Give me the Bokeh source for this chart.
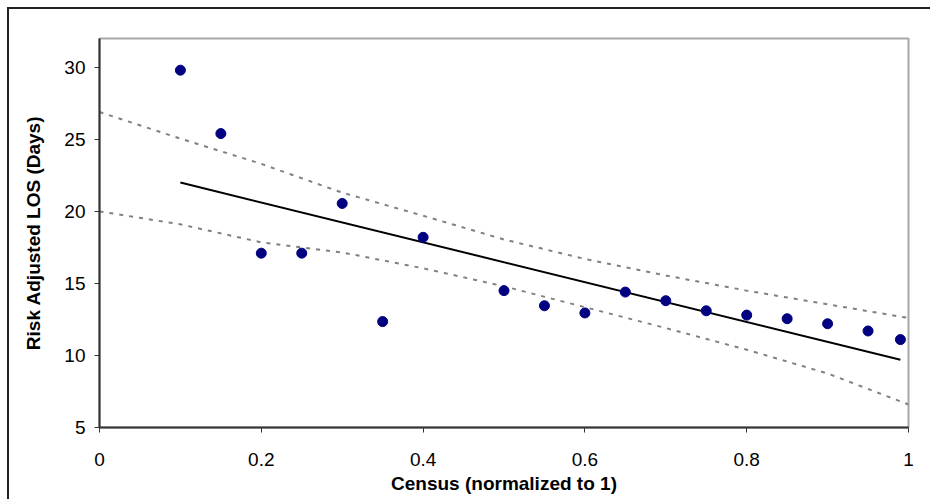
from bokeh.plotting import figure
from bokeh.models import Range1d, FixedTicker
from bokeh.embed import file_html
from bokeh.resources import INLINE

# Observed data
census = [0.1, 0.15, 0.2, 0.25, 0.3, 0.35, 0.4, 0.5, 0.55, 0.6, 0.65, 0.7,
          0.75, 0.8, 0.85, 0.9, 0.95, 0.99]
los = [29.8, 25.4, 17.1, 17.1, 20.55, 12.35, 18.2, 14.5, 13.45, 12.95, 14.4,
       13.8, 13.1, 12.8, 12.55, 12.2, 11.7, 11.1]

# Fitted trend line (endpoints)
trend_x = [0.1, 0.99]
trend_y = [22.0, 9.7]

# Confidence band lines
band_x = [0.0, 0.1, 0.2, 0.3, 0.4, 0.5, 0.6, 0.7, 0.8, 0.9, 1.0]
upper_y = [26.9, 25.05, 23.3, 21.3, 19.7, 18.05, 16.7, 15.55, 14.5, 13.55, 12.6]
lower_y = [20.0, 19.1, 17.85, 17.15, 16.05, 14.8, 13.35, 11.9, 10.4, 8.75, 6.6]

x_ticks = [0, 0.2, 0.4, 0.6, 0.8, 1.0]
x_tick_labels = {0: "0", 0.2: "0.2", 0.4: "0.4", 0.6: "0.6", 0.8: "0.8", 1.0: "1"}
y_ticks = [5, 10, 15, 20, 25, 30]

FONT = "Liberation Sans"

p = figure(width=923, height=492, output_backend="svg", toolbar_location=None,
           x_range=Range1d(0, 1), y_range=Range1d(5, 32.0),
           min_border_left=90, min_border_right=24, min_border_top=29,
           min_border_bottom=74)
p.styles = {"border-top": "2px solid #222222", "border-left": "2px solid #222222",
            "margin-left": "7px", "margin-top": "7px"}

p.xgrid.visible = False
p.ygrid.visible = False
p.outline_line_color = "#a8a8a8"
p.outline_line_width = 2
p.background_fill_color = "white"
p.border_fill_color = "white"

p.line(band_x, upper_y, line_color="#808080", line_width=2, line_dash="4 6")
p.line(band_x, lower_y, line_color="#808080", line_width=2, line_dash="4 6")
p.line(trend_x, trend_y, line_color="black", line_width=2)
p.scatter(census, los, size=10, fill_color="#000080", line_color="#000080")

for ax in (p.xaxis[0], p.yaxis[0]):
    ax.axis_line_color = "#333333"
    ax.axis_line_width = 2
    ax.major_tick_line_color = "#333333"
    ax.major_tick_line_width = 1
    ax.major_tick_out = 5
    ax.major_tick_in = 0
    ax.minor_tick_out = 0
    ax.minor_tick_in = 0
    ax.major_label_text_font = FONT
    ax.major_label_text_font_size = "19px"
    ax.major_label_text_color = "black"
    ax.axis_label_text_font = FONT
    ax.axis_label_text_font_size = "19px"
    ax.axis_label_text_font_style = "bold"
    ax.axis_label_text_color = "black"

p.xaxis[0].ticker = FixedTicker(ticks=x_ticks)
p.xaxis[0].major_label_overrides = x_tick_labels
p.xaxis[0].major_label_standoff = 20
p.xaxis[0].axis_label = "Census (normalized to 1)"
p.xaxis[0].axis_label_standoff = 4

p.yaxis[0].ticker = FixedTicker(ticks=y_ticks)
p.yaxis[0].major_label_standoff = 9
p.yaxis[0].axis_label = "Risk Adjusted LOS (Days)"
p.yaxis[0].axis_label_standoff = 17

open("out.html", "w").write(file_html(p, INLINE))
